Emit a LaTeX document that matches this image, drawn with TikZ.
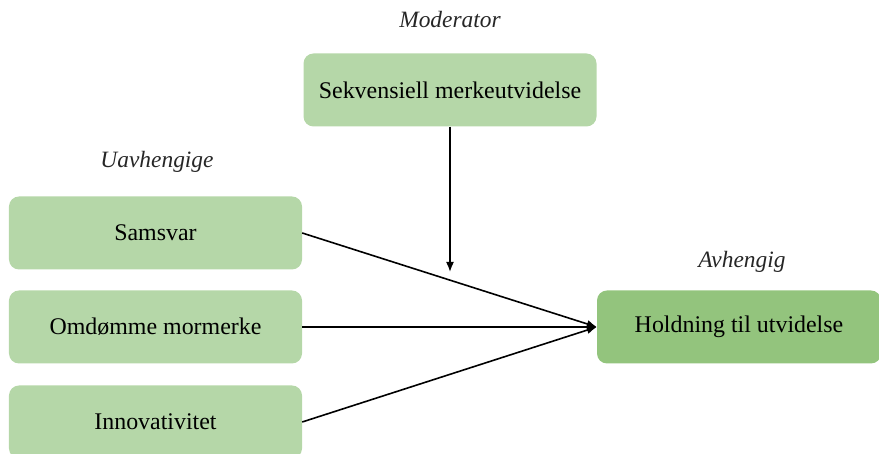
\documentclass[tikz,border=0pt]{standalone}
\usepackage{fontspec}
\setmainfont{Liberation Serif}
\usetikzlibrary{arrows.meta}
\definecolor{boxgreen}{HTML}{B5D7A8}
\definecolor{depgreen}{HTML}{93C47D}
\begin{document}
\begin{tikzpicture}[x=1bp,y=1bp,
  font=\fontsize{24}{28}\selectfont,
  var/.style={rectangle,rounded corners=10bp,fill=boxgreen,minimum width=293bp,minimum height=73bp,inner sep=0pt},
  dep/.style={var,fill=depgreen,minimum width=284bp},
  role/.style={font=\fontsize{23.5}{28}\selectfont\itshape,text=black!85},
  link/.style={line width=1.6bp,-{Latex[length=10bp,width=8bp]}}]

\useasboundingbox (0,0) rectangle (879,454);

%moderator
    \node[role] (modlabel) at (450,434) {Moderator};
    \node[var] (mod) at (450,364) {Sekvensiell merkeutvidelse};
    \coordinate (modend) at (450,182);

%independent variables
    \node[role] (indlabel) at (157,292) {Uavhengige};
    \node[var] (samsvar) at (155.5,221) {Samsvar};
    \node[var] (omdomme) at (155.5,127) {Omdømme mormerke};
    \node[var] (innov) at (155.5,32) {Innovativitet};

%dependent variable
    \node[role] (deplabel) at (742,192) {Avhengig};
    \node[dep] (hold) at (739,127) {Holdning til utvidelse};

%draw links
    \foreach \src in {samsvar,omdomme,innov}
    \draw[link] (\src.east) -- (hold.west);
    \draw[link] (mod.south) -- (modend);

\end{tikzpicture}
\end{document}
